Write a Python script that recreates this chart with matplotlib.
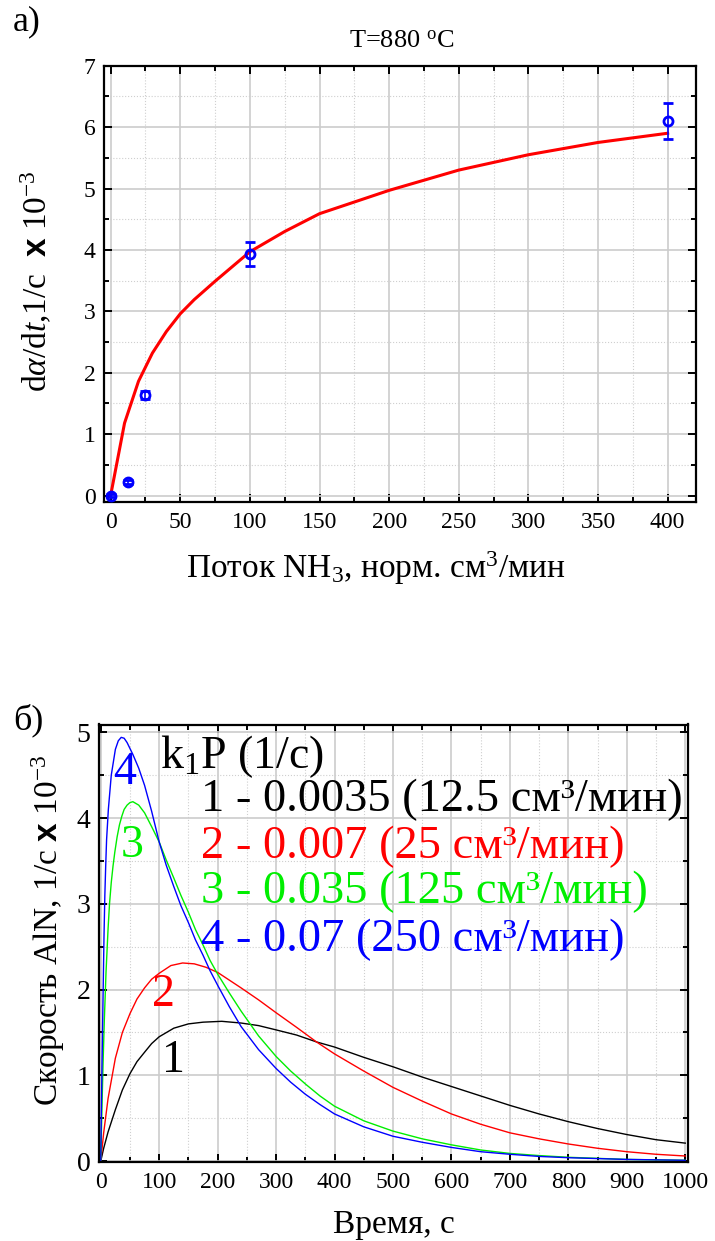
import matplotlib
matplotlib.use('Agg')
import matplotlib.pyplot as plt
from matplotlib.ticker import MultipleLocator

plt.rcParams['font.family'] = ['Liberation Serif', 'DejaVu Serif']
plt.rcParams['mathtext.fontset'] = 'custom'
plt.rcParams['mathtext.rm'] = 'Liberation Serif'
plt.rcParams['mathtext.it'] = 'Liberation Serif:italic'
plt.rcParams['mathtext.bf'] = 'Liberation Sans:bold'

# ---------------- data: panel a ----------------
flow = [0, 12.5, 25, 100, 400]
rate = [0.0, 0.22, 1.64, 3.93, 6.10]
rate_err = [0.02, 0.04, 0.06, 0.20, 0.30]
fit_x = [0, 10, 20, 30, 40, 50, 60, 75, 100, 125, 150, 200, 250, 300, 350, 400]
fit_y = [0, 1.18, 1.86, 2.32, 2.67, 2.96, 3.19, 3.49, 3.97, 4.30, 4.59, 4.97, 5.30, 5.55, 5.75, 5.90]

# ---------------- data: panel b ----------------
t1 = [0, 5, 12.5, 25, 37, 50, 62, 75, 87, 100, 125, 150, 175, 207, 240, 270, 300, 335, 369, 400, 450,
      500, 550, 600, 650, 700, 750, 800, 850, 900, 950, 1000]
y1 = [0, 0.15, 0.34, 0.60, 0.83, 1.02, 1.16, 1.27, 1.37, 1.45, 1.55, 1.60, 1.62, 1.63, 1.61, 1.58, 1.53,
      1.47, 1.39, 1.33, 1.21, 1.10, 0.98, 0.87, 0.76, 0.65, 0.55, 0.46, 0.38, 0.31, 0.25, 0.21]

t2 = [0, 5, 12.5, 25, 37, 50, 62, 75, 87, 100, 120, 140, 160, 180, 200, 240, 270, 300, 335, 369, 400,
      450, 500, 550, 600, 650, 700, 750, 800, 850, 900, 950, 1000]
y2 = [0, 0.33, 0.73, 1.20, 1.50, 1.72, 1.89, 2.02, 2.12, 2.19, 2.28, 2.31, 2.30, 2.26, 2.20, 2.02, 1.88,
      1.73, 1.56, 1.39, 1.25, 1.05, 0.86, 0.70, 0.55, 0.43, 0.33, 0.26, 0.20, 0.15, 0.11, 0.08, 0.06]

t3 = [0, 1, 2, 3, 4, 6, 9, 12.6, 15, 18, 21, 24, 28, 32, 36, 40, 45, 50, 55, 65, 75, 87, 100, 112, 125,
      137, 150, 162, 175, 187, 200, 220, 240, 270, 300, 325, 350, 375, 400, 450, 500, 550, 600, 650, 700,
      750, 800, 900, 1000]
y3 = [0, 0.30, 0.60, 0.88, 1.15, 1.62, 2.20, 2.72, 3.00, 3.25, 3.44, 3.60, 3.78, 3.92, 4.02, 4.10, 4.15,
      4.18, 4.19, 4.15, 4.06, 3.90, 3.72, 3.51, 3.30, 3.10, 2.90, 2.70, 2.52, 2.34, 2.18, 1.96, 1.75, 1.46,
      1.22, 1.05, 0.90, 0.76, 0.64, 0.47, 0.35, 0.26, 0.19, 0.13, 0.09, 0.065, 0.045, 0.02, 0.01]

t4 = [0, 1, 2, 3, 4, 5.5, 7, 8.5, 10, 13, 18, 25, 30, 35, 40, 45, 55, 65, 75, 87, 100, 112, 125, 137, 150,
      162, 175, 187, 200, 220, 240, 270, 300, 325, 350, 375, 400, 450, 500, 550, 600, 650, 700, 750, 800,
      900, 1000]
y4 = [0, 0.55, 1.05, 1.50, 1.95, 2.60, 3.10, 3.45, 3.75, 4.10, 4.50, 4.80, 4.90, 4.94, 4.93, 4.88, 4.74,
      4.58, 4.38, 4.08, 3.72, 3.45, 3.20, 2.98, 2.78, 2.58, 2.40, 2.22, 2.05, 1.80, 1.57, 1.30, 1.08, 0.92,
      0.78, 0.66, 0.55, 0.40, 0.29, 0.22, 0.16, 0.11, 0.08, 0.055, 0.04, 0.02, 0.01]

legend_lines = ["1 - 0.0035 (12.5 см³/мин)",
                "2 - 0.007 (25 см³/мин)",
                "3 - 0.035 (125 см³/мин)",
                "4 - 0.07 (250 см³/мин)"]
curve_colors = ['black', 'red', '#00ee00', 'blue']

W, H = 715, 1241
fig = plt.figure(figsize=(W / 100, H / 100), dpi=100)


def rect(l, t, r, b):
    return [l / W, 1 - b / H, (r - l) / W, (b - t) / H]


def fpos(x, y):
    return x / W, 1 - y / H


def style(ax, xmaj, xmin, ymaj, ymin, xsize, ysize):
    ax.xaxis.set_major_locator(MultipleLocator(xmaj))
    ax.xaxis.set_minor_locator(MultipleLocator(xmin))
    ax.yaxis.set_major_locator(MultipleLocator(ymaj))
    ax.yaxis.set_minor_locator(MultipleLocator(ymin))
    ax.grid(which='major', color='#cccccc', lw=1.2, ls='-')
    ax.grid(which='minor', color='#cfcfcf', lw=0.8, ls=':')
    ax.set_axisbelow(True)
    ax.tick_params(which='both', direction='in', top=True, right=True, width=1.4, color='black')
    ax.tick_params(which='major', length=6)
    ax.tick_params(which='minor', length=3.5)
    ax.tick_params(axis='x', labelsize=xsize, pad=7)
    ax.tick_params(axis='y', labelsize=ysize, pad=6)
    for s in ax.spines.values():
        s.set_linewidth(1.6)


# ---------------- panel a ----------------
ax1 = fig.add_axes(rect(103.8, 65.7, 695.5, 502.3))
style(ax1, 50, 25, 1, 0.5, 17, 17)
ax1.set_xlim(-4.9, 420)
ax1.set_ylim(-0.11, 7.0)
ax1.plot(fit_x, fit_y, color='red', lw=2.2, zorder=3)
ax1.errorbar(flow, rate, yerr=rate_err, fmt='o', mfc='none', mec='blue', ecolor='blue',
             ms=6.5, mew=2.0, capsize=3.5, elinewidth=1.2, capthick=1.2, zorder=4)

fig.text(*fpos(27, 22), "а)", fontsize=26, ha='center', va='center')
fig.text(*fpos(402, 42), "T=880 $^{\\mathrm{o}}$C", fontsize=19, ha='center', va='center')
fig.text(*fpos(376, 568), "Поток NH$_3$, норм. см$^3$/мин", fontsize=24, ha='center', va='center')
fig.text(*fpos(37, 281), "d$\\mathit{\\alpha}$/d$\\mathit{t}$,1/c  $\\mathbf{x}$ 10$^{-3}$",
         fontsize=24, ha='center', va='center', rotation=90)

# ---------------- panel b ----------------
ax2 = fig.add_axes(rect(99, 724.5, 687.6, 1162))
style(ax2, 100, 50, 1, 0.5, 17, 20)
ax2.set_xlim(-3, 1004)
ax2.set_ylim(-0.01, 5.09)
for tt, yy, c in zip([t1, t2, t3, t4], [y1, y2, y3, y4], curve_colors):
    ax2.plot(tt, yy, color=c, lw=1.0)

fig.text(*fpos(28, 720), "б)", fontsize=26, ha='center', va='center')
fig.text(*fpos(394, 1225), "Время, с", fontsize=24, ha='center', va='center')
fig.text(*fpos(48, 930), "Скорость AlN, 1/c $\\mathbf{x}$ 10$^{-3}$",
         fontsize=24, ha='center', va='center', rotation=90)

# curve number labels (axes data coordinates)
num_pos = [(124, 1.17), (107, 1.94), (53, 3.68), (40, 4.53)]
for i, ((tx, ty), c) in enumerate(zip(num_pos, curve_colors)):
    ax2.text(tx, ty, str(i + 1), color=c, fontsize=33, ha='center', va='center')

ax2.text(101.5, 4.72, "k$_1$P (1/c)", color='black', fontsize=33, ha='left', va='center')
leg_y = [4.21, 3.67, 3.14, 2.58]
for s, yy, c in zip(legend_lines, leg_y, curve_colors):
    ax2.text(171, yy, s, color=c, fontsize=33.5, ha='left', va='center')

fig.savefig('out.png', dpi=100)
